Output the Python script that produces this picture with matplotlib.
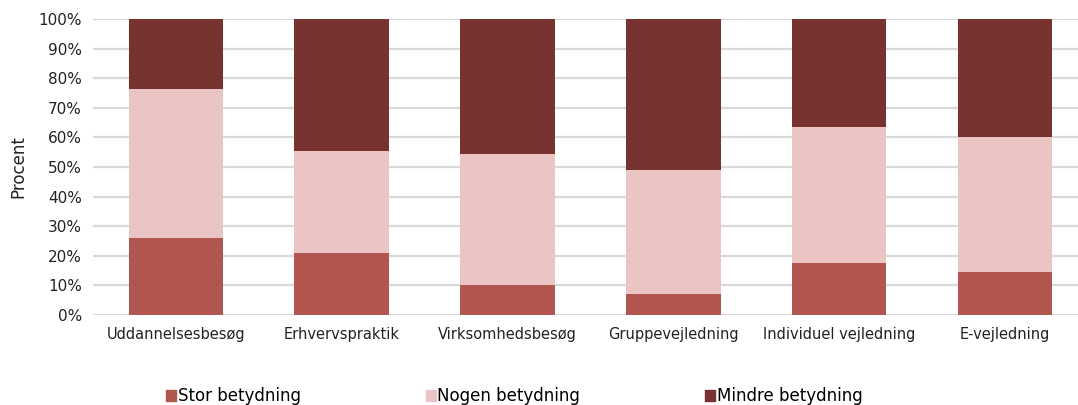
import numpy as np
import matplotlib.pyplot as plt
from matplotlib.patches import Patch

categories = ["Uddannelsesbesøg", "Erhvervspraktik", "Virksomhedsbesøg",
              "Gruppevejledning", "Individuel vejledning", "E-vejledning"]
stor = [26, 21, 10, 7, 17.5, 14.5]
nogen = [50.5, 34.5, 44.5, 42, 46, 45.5]
mindre = [23.5, 44.5, 45.5, 51, 36.5, 40]
series_names = ["Stor betydning", "Nogen betydning", "Mindre betydning"]
colors = ["#B0564F", "#EBC5C4", "#78322F"]

fig = plt.figure(figsize=(10.78, 4.05), dpi=100)
ax = fig.add_axes([93/1078, 90/405, (1078-93)/1078, 296/405])

x = np.arange(len(categories))
w = 0.57
ax.bar(x, stor, w, color=colors[0], zorder=3)
ax.bar(x, nogen, w, bottom=stor, color=colors[1], zorder=3)
bottom2 = np.array(stor) + np.array(nogen)
ax.bar(x, mindre, w, bottom=bottom2, color=colors[2], zorder=3)

ax.set_xlim(-0.5, 5.44)
ax.set_ylim(0, 100)
ax.set_yticks(range(0, 101, 10))
ax.set_yticklabels([f"{v}%" for v in range(0, 101, 10)], fontsize=11, color="#222222")
ax.set_xticks(x)
ax.set_xticklabels(categories, fontsize=10.5, color="#222222")
ax.tick_params(axis="both", length=0)
ax.tick_params(axis="x", pad=9)
ax.tick_params(axis="y", pad=8)
ax.yaxis.grid(True, color="#d9d9d9", linewidth=1.6, zorder=0)
for s in ax.spines.values():
    s.set_visible(False)
ax.set_ylabel("Procent", fontsize=12, color="#222222", labelpad=8)

handles = [Patch(color=c) for c in colors]
fig.legend(handles, series_names, loc="center", bbox_to_anchor=(0.477, 0.022),
           ncol=3, frameon=False, fontsize=12, handlelength=0.6, handleheight=0.6,
           handletextpad=0.1, columnspacing=7.5)

fig.savefig("out.png", dpi=100)
